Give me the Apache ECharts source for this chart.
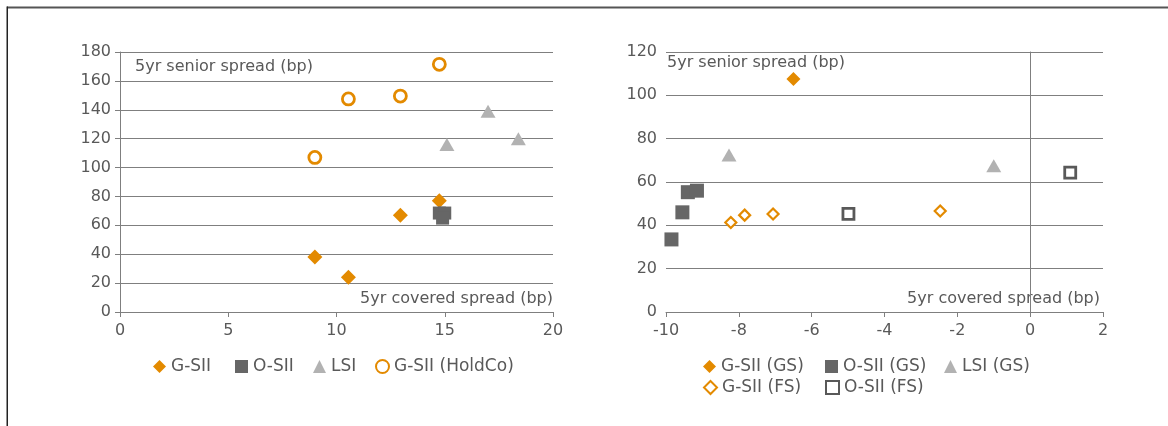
<!DOCTYPE html>
<html><head><meta charset="utf-8">
<script src="https://cdn.jsdelivr.net/npm/echarts@6/dist/echarts.min.js"></script>
<style>html,body{margin:0;padding:0;background:#fff}#c{width:1168px;height:426px}</style>
</head><body><div id="c"></div>
<script>
// Left chart data [covered spread, senior spread]
const gsii = [[9.0, 38], [10.55, 24], [12.95, 67], [14.75, 77]];
const osii = [[14.75, 68.5], [15.0, 68.5], [14.9, 65]];
const lsi = [[15.1, 116], [17.0, 139], [18.4, 120]];
const gsiiHold = [[9.0, 107], [10.55, 147.5], [12.95, 149.5], [14.75, 171.5]];
// Right chart data
const gsiiGS = [[-6.5, 107.5]];
const osiiGS = [[-9.85, 33.5], [-9.55, 46], [-9.4, 55.3], [-9.15, 56]];
const lsiGS = [[-8.27, 72.5], [-1.0, 67.5]];
const gsiiFS = [[-8.22, 41.3], [-7.84, 44.7], [-7.06, 45.2], [-2.47, 46.6]];
const osiiFS = [[-4.99, 45.3], [1.1, 64.3]];
// Axis ranges / ticks
const leftX = {min: 0, max: 20, step: 5};
const leftY = {min: 0, max: 180, step: 20};
const rightX = {min: -10, max: 2, step: 2};
const rightY = {min: 0, max: 120, step: 20};
const yName = '5yr senior spread (bp)';
const xName = '5yr covered spread (bp)';
const leftNames = ['G-SII', 'O-SII', 'LSI', 'G-SII (HoldCo)'];
const rightNames = ['G-SII (GS)', 'O-SII (GS)', 'LSI (GS)', 'G-SII (FS)', 'O-SII (FS)'];

const ORANGE = '#E38A00', DARK = '#666666', LIGHT = '#B2B2B2', TXT = '#595959', GRID = '#7f7f7f';
const FONT = 'DejaVu Sans';
const lbl = {color: TXT, fontSize: 16, fontFamily: FONT};
const legLbl = {color: TXT, fontSize: 17, fontFamily: FONT};

function xAx(g, r) {
  return {type: 'value', gridIndex: g, min: r.min, max: r.max, interval: r.step,
    axisLine: {show: true, onZero: false, lineStyle: {color: GRID, width: 1}},
    axisTick: {show: true, length: 5, lineStyle: {color: GRID}},
    axisLabel: Object.assign({margin: 11}, lbl), splitLine: {show: false}};
}
function yAx(g, r, showLine) {
  return {type: 'value', gridIndex: g, min: r.min, max: r.max, interval: r.step,
    axisLine: {show: showLine, onZero: false, lineStyle: {color: GRID, width: 1}},
    axisTick: {show: showLine, length: 5, lineStyle: {color: GRID}},
    axisLabel: Object.assign({margin: 9}, lbl),
    splitLine: {show: true, lineStyle: {color: GRID, width: 1}}};
}
function leg(name, left, top) {
  return {data: [name], left: left, top: top, padding: 0, itemGap: 0, itemWidth: 13, itemHeight: 13, textStyle: legLbl};
}
const chart = echarts.init(document.getElementById('c'), null, {renderer: 'canvas'});
chart.setOption({
  animation: false,
  backgroundColor: '#fff',
  grid: [
    {left: 120, right: 615, top: 52, bottom: 114},
    {left: 666, right: 65, top: 52, bottom: 114}
  ],
  xAxis: [xAx(0, leftX), xAx(1, rightX)],
  yAxis: [yAx(0, leftY, true), yAx(1, rightY, false),
    {type: 'value', gridIndex: 1, min: rightY.min, max: rightY.max, interval: rightY.step, position: 'left',
     axisLine: {show: true, onZero: true, lineStyle: {color: GRID, width: 1}},
     axisTick: {show: true, length: 4, lineStyle: {color: GRID}},
     axisLabel: {show: false}, splitLine: {show: false}}
  ],
  legend: [
    leg(leftNames[0], 153, 358), leg(leftNames[1], 235, 358), leg(leftNames[2], 313, 358), leg(leftNames[3], 375, 358),
    leg(rightNames[0], 703, 358), leg(rightNames[1], 825, 358), leg(rightNames[2], 944, 358),
    leg(rightNames[3], 703, 379), leg(rightNames[4], 825, 379)
  ],
  graphic: [
    {type: 'rect', shape: {x: 7, y: 6.5, width: 1161, height: 1.5}, style: {fill: '#555'}, silent: true},
    {type: 'rect', shape: {x: 7, y: 8, width: 1161, height: 1}, style: {fill: '#aaa'}, silent: true},
    {type: 'rect', shape: {x: 6.5, y: 6.5, width: 1.5, height: 420}, style: {fill: '#222'}, silent: true},
    {type: 'text', left: 135, top: 59, style: {text: yName, fill: TXT, font: '16px "DejaVu Sans"'}},
    {type: 'text', left: 667, top: 55, style: {text: yName, fill: TXT, font: '16px "DejaVu Sans"'}},
    {type: 'text', right: 615, top: 291, style: {text: xName, fill: TXT, font: '16px "DejaVu Sans"'}},
    {type: 'text', right: 68, top: 291, style: {text: xName, fill: TXT, font: '16px "DejaVu Sans"'}}
  ],
  series: [
    {name: 'G-SII', type: 'scatter', xAxisIndex: 0, yAxisIndex: 0, data: gsii, symbol: 'diamond', symbolSize: 15, itemStyle: {color: ORANGE, opacity: 1}},
    {name: 'O-SII', type: 'scatter', xAxisIndex: 0, yAxisIndex: 0, data: osii, symbol: 'rect', symbolSize: 13, itemStyle: {color: DARK, opacity: 1}},
    {name: 'LSI', type: 'scatter', xAxisIndex: 0, yAxisIndex: 0, data: lsi, symbol: 'triangle', symbolSize: [15, 13], itemStyle: {color: LIGHT, opacity: 1}},
    {name: 'G-SII (HoldCo)', type: 'scatter', xAxisIndex: 0, yAxisIndex: 0, data: gsiiHold, symbol: 'circle', symbolSize: 12, itemStyle: {color: '#fff', borderColor: ORANGE, borderWidth: 2.8, opacity: 1}},
    {name: 'G-SII (GS)', type: 'scatter', xAxisIndex: 1, yAxisIndex: 1, data: gsiiGS, symbol: 'diamond', symbolSize: 14, itemStyle: {color: ORANGE, opacity: 1}},
    {name: 'O-SII (GS)', type: 'scatter', xAxisIndex: 1, yAxisIndex: 1, data: osiiGS, symbol: 'rect', symbolSize: 14, itemStyle: {color: DARK, opacity: 1}},
    {name: 'LSI (GS)', type: 'scatter', xAxisIndex: 1, yAxisIndex: 1, data: lsiGS, symbol: 'triangle', symbolSize: [15, 13], itemStyle: {color: LIGHT, opacity: 1}},
    {name: 'G-SII (FS)', type: 'scatter', xAxisIndex: 1, yAxisIndex: 1, data: gsiiFS, symbol: 'diamond', symbolSize: 11, itemStyle: {color: '#fff', borderColor: ORANGE, borderWidth: 2.2, opacity: 1}},
    {name: 'O-SII (FS)', type: 'scatter', xAxisIndex: 1, yAxisIndex: 1, data: osiiFS, symbol: 'rect', symbolSize: 11, itemStyle: {color: '#fff', borderColor: TXT, borderWidth: 2.8, opacity: 1}}
  ]
});
</script></body></html>
